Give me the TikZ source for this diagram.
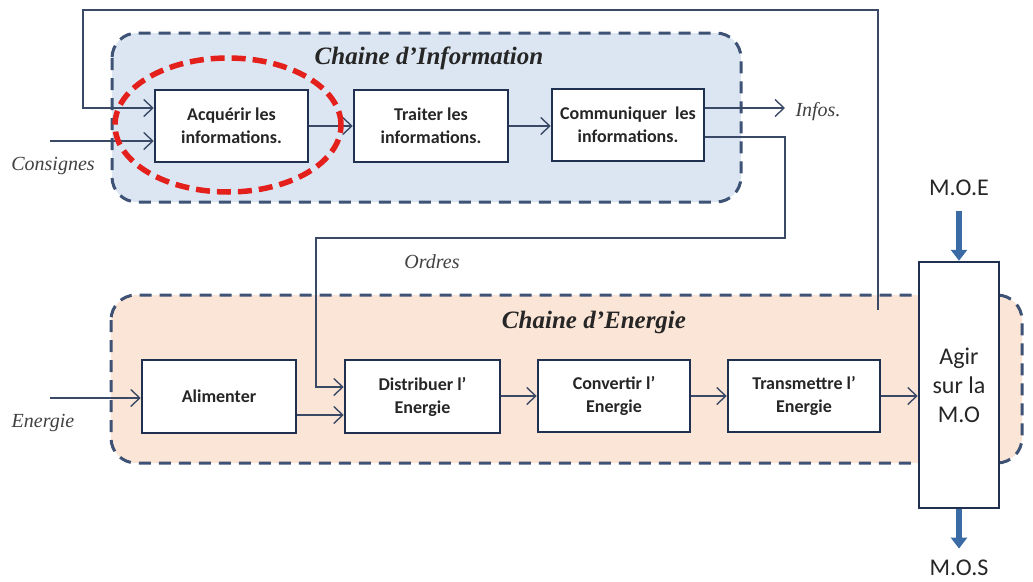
\documentclass[tikz,border=0pt]{standalone}
\usepackage{fontspec}
\setmainfont{Liberation Serif}
\newfontfamily\calfont{Carlito}
\usetikzlibrary{arrows.meta}
\definecolor{boxc}{HTML}{1F3050}
\definecolor{linec}{HTML}{3A4A66}
\definecolor{dashc}{HTML}{3D5275}
\definecolor{infofill}{HTML}{DCE6F2}
\definecolor{enfill}{HTML}{FBE5D6}
\definecolor{redc}{HTML}{E3201B}
\definecolor{thickc}{HTML}{3A6BA5}
\definecolor{labc}{HTML}{404040}
\tikzset{
  box/.style={draw=boxc, line width=2.5pt, fill=white, align=center, inner sep=0pt,
    font=\calfont\bfseries\fontsize{18}{23}\selectfont, text=black!85},
  arr/.style={draw=linec, line width=1.6pt, -{Straight Barb[length=9pt,width=17pt,line width=1.4pt]}},
  chain/.style={rounded corners=25pt, draw=dashc, line width=3pt, dash pattern=on 12pt off 8pt},
  lab/.style={font=\itshape\fontsize{20}{24}\selectfont, text=labc},
  ttl/.style={font=\bfseries\itshape\fontsize{25}{30}\selectfont, text=black!85},
  big/.style={font=\calfont\fontsize{24}{28}\selectfont, text=black!85},
  fat/.style={draw=thickc, line width=6pt, -{Triangle[length=11pt,width=16pt]}}
}
\begin{document}
\begin{tikzpicture}[x=1pt,y=-1pt]
\useasboundingbox (0,0) rectangle (1033,581);
% chains
\draw[chain, fill=infofill] (112,33) rectangle (741,202);
\draw[chain, fill=enfill] (111,295) rectangle (1022,463);
\node[ttl] (ti) at (429,58) {Chaine d’Information};
\node[ttl] (te) at (594,322) {Chaine d’Energie};
% boxes
\node[box, minimum width=153pt, minimum height=72pt] (acq) at (231.5,126) {Acquérir les\\informations.};
\node[box, minimum width=154pt, minimum height=72pt] (tra) at (431,126) {Traiter les\\informations.};
\node[box, minimum width=152pt, minimum height=72pt] (com) at (628,125) {Communiquer~ les\\informations.};
\node[box, minimum width=154pt, minimum height=73pt] (ali) at (219,396.5) {Alimenter};
\node[box, minimum width=155pt, minimum height=73pt] (dis) at (422.5,396.5) {Distribuer l’\\Energie};
\node[box, minimum width=152pt, minimum height=72pt] (con) at (614,396) {Convertir l’\\Energie};
\node[box, minimum width=152pt, minimum height=72pt] (trm) at (804,396) {Transmettre l’\\Energie};
\node[box, font=\calfont\fontsize{24}{29}\selectfont, minimum width=80pt, minimum height=246pt] (agir) at (959,385) {Agir\\sur la\\M.O};
% labels
\node[lab] (lcons) at (53,166) {Consignes};
\node[lab] (linf) at (818,112) {Infos.};
\node[lab] (lord) at (432,262) {Ordres};
\node[lab] (lene) at (43,423) {Energie};
\node[big] (moe) at (959,188) {M.O.E};
\node[big] (mos) at (959,568) {M.O.S};
% coordinates
\coordinate (fb) at (878,310);
\coordinate (cin) at (50,141);
\coordinate (fbin) at (83,108);
\coordinate (inf) at (785,108);
\coordinate (ordo) at (0,137);
\coordinate (ordi) at (0,387);
\coordinate (ein) at (50,398);
\coordinate (alo) at (0,415);
% connectors
\draw[arr] (fb) -- (878,10) -- (83,10) -- (fbin) -- (acq.west |- fbin);
\draw[arr] (cin) -- (acq.west |- cin);
\draw[arr] (acq) -- (tra);
\draw[arr] (tra.east) -- (com.west |- tra.east);
\draw[arr] (com.east |- inf) -- (inf);
\draw[arr] (com.east |- ordo) -- (785,137) -- (785,238) -- (316,238) -- (316,387) -- (dis.west |- ordi);
\draw[arr] (ein) -- (ali.west |- ein);
\draw[arr] (ali.east |- alo) -- (dis.west |- alo);
\draw[arr] (dis.east |- con.west) -- (con.west);
\draw[arr] (con) -- (trm);
\draw[arr] (trm.east) -- (agir.west |- trm.east);
\draw[fat, shorten <=12pt] (moe.south) -- (agir.north);
\draw[fat, shorten >=8pt] (agir.south) -- (mos.north);
% red ellipse
\draw[redc, line width=5.5pt, dash pattern=on 14pt off 7pt] (228,125) ellipse [x radius=113pt, y radius=67pt];
\end{tikzpicture}
\end{document}
